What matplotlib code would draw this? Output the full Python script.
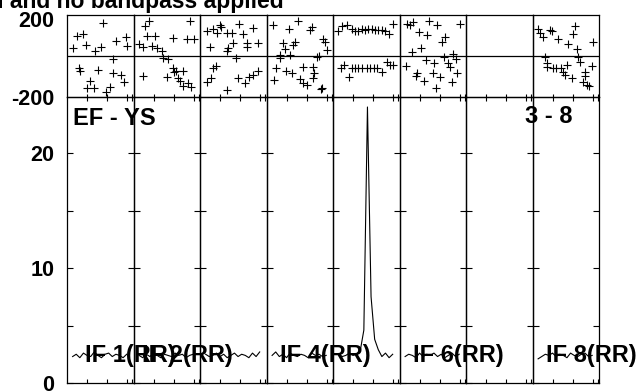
import matplotlib.pyplot as plt
from matplotlib.transforms import ScaledTranslation

plt.rcParams['font.family'] = ['Liberation Sans', 'DejaVu Sans']
plt.rcParams['font.weight'] = 'bold'
plt.rcParams['axes.unicode_minus'] = False

title = 'Calibrated and no bandpass applied'
baseline_label = 'EF - YS'
time_label = '3 - 8'
if_labels = ['IF 1(RR)', 'IF 2(RR)', None, 'IF 4(RR)', None, 'IF 6(RR)', None, 'IF 8(RR)']

phase_chan = [
    [9.0, 2.5, 4.0, 1.5, 4.75, 7.0, 8.5, 12.25, 14.75, 15.0, 11.5, 3.0, 3.25, 7.75,
     11.5, 13.5, 14.25, 5.75, 5.0, 6.75, 9.75, 10.75],
    [2.9, 3.9, 14.1, 3.4, 5.4, 9.9, 13.4, 15.1, 1.4, 2.4, 4.6, 5.9, 7.1, 7.4, 8.6,
     9.9, 10.6, 12.4, 10.1, 2.4, 8.4, 11.1, 11.6, 12.4, 13.6, 14.4],
    [1.75, 3.25, 5.0, 5.25, 6.75, 8.0, 9.75, 10.75, 13.25, 4.25, 2.5, 7.0, 8.25,
     11.75, 14.5, 11.75, 6.75, 9.0, 4.0, 3.25, 1.75, 2.75, 6.75, 9.5, 11.25, 12.25,
     13.25, 14.5],
    [1.6, 5.6, 7.9, 11.4, 10.9, 4.1, 7.1, 6.6, 4.6, 3.4, 3.4, 5.9, 14.1, 14.6, 13.1,
     12.6, 15.1, 2.4, 1.9, 4.9, 6.4, 9.1, 11.6, 11.9, 8.4, 9.1, 10.1, 11.6, 13.6, 13.9],
    [1.25, 2.25, 3.5, 4.75, 5.5, 6.25, 7.25, 8.0, 8.75, 9.75, 10.5, 11.25, 12.25, 13.0,
     14.0, 15.0, 2.0, 2.75, 4.0, 4.75, 5.5, 6.25, 7.25, 8.5, 9.25, 10.25, 11.0, 12.25,
     13.5, 14.25, 15.0],
    [1.9, 2.6, 3.4, 7.4, 9.4, 15.1, 4.9, 6.9, 11.4, 10.6, 3.1, 5.4, 6.6, 8.6, 11.1,
     13.4, 14.1, 12.1, 12.6, 1.6, 4.4, 4.1, 6.1, 8.4, 10.1, 9.1, 13.1, 14.4],
    [],
    [1.4, 1.9, 2.6, 4.4, 4.9, 6.4, 8.9, 10.1, 10.6, 11.1, 15.1, 3.1, 3.6, 3.6, 5.1,
     5.9, 7.1, 7.6, 8.6, 8.1, 9.9, 11.4, 11.9, 14.9, 13.1, 13.1, 12.6, 13.6, 14.1],
]
phase_deg = [
    [161, 98, 107, 39, 54, 24, 44, 73, 93, 49, -15, -59, -73, -68, -83, -93, -127,
     -122, -156, -156, -176, -151],
    [146, 171, 171, 98, 98, 88, 83, 83, 59, 44, 49, 39, 24, -10, -15, -59, -73, -73,
     -80, -98, -102, -107, -122, -146, -132, -151],
    [122, 132, 151, 141, 112, 112, 156, 107, 137, 112, 44, 39, 63, 63, 63, 44, 24,
     -10, -49, -59, -127, -107, -166, -107, -132, -102, -93, -73],
    [151, 132, 171, 141, 127, 63, 68, 54, 34, 5, -10, 5, 83, 68, 0, -5, 29, -59,
     -117, -73, -83, -54, -54, -83, -112, -132, -141, -107, -161, -156],
    [122, 146, 151, 132, 122, 122, 132, 127, 132, 132, 127, 127, 127, 122, 107, 156,
     -59, -44, -102, -59, -59, -59, -59, -59, -59, -59, -59, -78, -29, -44, -44],
    [156, 151, 166, 171, 151, 156, 117, 102, 93, 68, 20, 39, -20, -34, -5, 10, -15,
     -34, -54, -49, -83, -98, -122, -83, -102, -156, -127, -83],
    [],
    [132, 112, 93, 127, 122, 83, 59, 107, 146, 34, 68, -5, -34, -54, -59, -59, -59,
     -78, -44, -93, -107, -5, -29, -49, -78, -98, -127, -141, -146],
]

# amplitude per IF
amp_chan = [1.4, 2.3, 3.2, 4.1, 5.0, 5.9, 6.8, 7.7, 8.6, 9.5, 10.4, 11.3, 12.2, 13.1,
            14.0, 14.9]
amp_values = [
    [2.3, 2.5, 2.2, 2.6, 2.4, 2.3, 2.7, 2.4, 2.2, 2.5, 2.6, 2.3, 2.5, 2.4, 2.2, 2.5],
    [2.4, 2.2, 2.5, 2.3, 2.6, 2.4, 2.2, 2.5, 2.4, 2.3, 2.6, 2.4, 2.5, 2.2, 2.4, 2.5],
    [2.5, 2.3, 2.4, 2.6, 2.3, 2.5, 2.2, 2.4, 2.6, 2.3, 2.5, 2.4, 2.2, 2.6, 2.3, 2.7],
    [2.4, 2.7, 2.3, 2.5, 2.2, 2.6, 2.4, 2.3, 2.5, 2.4, 2.2, 2.6, 2.4, 2.5, 2.3, 2.4],
    [2.5, 2.3, 2.4, 2.6, 2.4, 2.5, 2.8, 4.6, 24.0, 7.5, 3.8, 2.9, 2.3, 2.6, 2.2, 2.5],
    [2.3, 2.5, 2.4, 2.2, 2.6, 2.3, 2.5, 2.4, 2.6, 2.3, 2.5, 2.2, 2.4, 2.6, 2.3, 2.5],
    [],
    [2.1, 2.3, 2.5, 2.4, 2.6, 2.3, 2.5, 2.4, 2.2, 2.6, 2.4, 2.3, 2.5, 2.6, 2.3, 2.4],
]

amp_ticks = [0, 5, 10, 15, 20]
amp_tick_labels = ['0', '', '10', '', '20']
phase_ticks = [-200, 200]
chan_ticks = [5, 10, 15, 16.25]
label_offsets = [4.5, 2.2, 0, 3.4, 0, 3.4, 0, 3.4]


def style_axes(ax):
    ax.set_facecolor('none')
    for sp in ax.spines.values():
        sp.set_linewidth(0.9)
        sp.set_color('black')


def main():
    W, H = 642, 392
    x0, pw = 67, 66.5
    fig = plt.figure(figsize=(W / 100, H / 100), dpi=100)

    for i in range(8):
        left = (x0 + i * pw) / W

        # phase strip
        axp = fig.add_axes([left, 1 - 97 / H, pw / W, 82 / H])
        style_axes(axp)
        axp.set_xlim(0, 16.6)
        axp.set_ylim(-200, 200)
        axp.axhline(0, color='black', lw=0.9)
        if phase_chan[i]:
            axp.plot(phase_chan[i], phase_deg[i], '+', color='black', ms=5.5, mew=0.8)
        axp.set_xticks(chan_ticks)
        axp.tick_params(axis='x', direction='in', length=2.5, width=0.8,
                        labelbottom=False)
        axp.set_yticks(phase_ticks)
        axp.tick_params(axis='y', length=0, pad=9, labelsize=15.5,
                        labelleft=(i == 0))
        if i == 0:
            top_lab = axp.get_yticklabels()[1]
            top_lab.set_transform(top_lab.get_transform() +
                                  ScaledTranslation(0, -4 / 100, fig.dpi_scale_trans))

        # amplitude panel
        axa = fig.add_axes([left, 1 - 383 / H, pw / W, 286 / H])
        style_axes(axa)
        axa.set_xlim(0, 16.6)
        axa.set_ylim(0, 24.87)
        if amp_values[i]:
            axa.plot(amp_chan, amp_values[i], color='black', lw=0.8)
        axa.set_xticks(chan_ticks)
        axa.tick_params(axis='x', direction='in', length=3, width=0.8,
                        top=True, labelbottom=False)
        axa.set_yticks(amp_ticks)
        axa.set_yticklabels(amp_tick_labels)
        axa.tick_params(axis='y', direction='in', length=4, width=0.8,
                        right=True, pad=9, labelsize=15.5, labelleft=(i == 0))
        if if_labels[i]:
            axa.text(label_offsets[i], 1.8, if_labels[i], fontsize=17, ha='left',
                     va='baseline', zorder=5)
        if i == 0:
            axa.text(1.4, 22.4, baseline_label, fontsize=17, ha='left',
                     va='baseline')
        if i == 7:
            axa.text(10.0, 22.6, time_label, fontsize=17, ha='right',
                     va='baseline')

    fig.text(284 / W, 1 - 8 / H, title, fontsize=16.5, ha='right', va='baseline')
    fig.savefig('out.png', dpi=100)


if __name__ == '__main__':
    main()
